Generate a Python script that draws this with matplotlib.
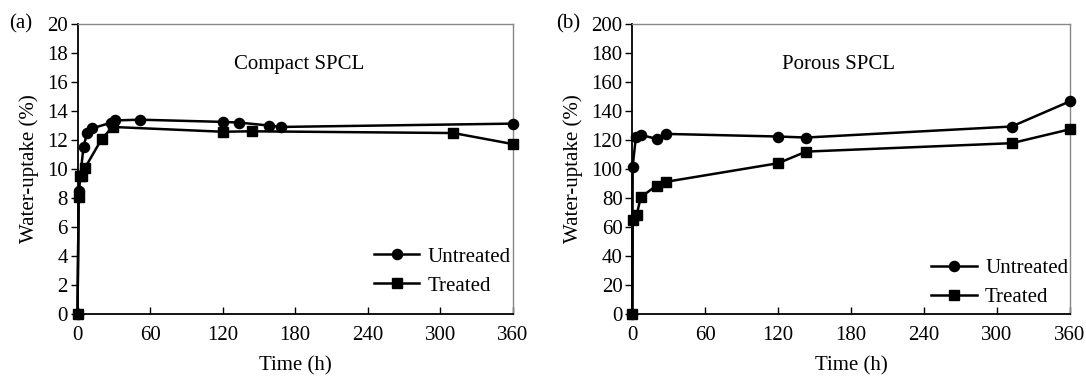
import matplotlib
matplotlib.use("Agg")
import matplotlib.pyplot as plt
from matplotlib.lines import Line2D

plt.rcParams['font.family'] = ['Liberation Serif', 'DejaVu Serif']

# Compact SPCL
t_cu = [0, 1, 5, 8, 12, 28, 31, 52, 120, 134, 158, 168, 360]
y_cu = [0, 8.5, 11.55, 12.5, 12.8, 13.2, 13.35, 13.4, 13.25, 13.2, 13.0, 12.9, 13.13]
t_ct = [0, 1, 2, 4, 6, 20, 29, 120, 144, 311, 360]
y_ct = [0, 8.1, 9.5, 9.55, 10.05, 12.07, 12.9, 12.57, 12.6, 12.48, 11.72]

# Porous SPCL
t_pu = [0, 0.3, 3, 7, 20, 28, 120, 143, 312, 360]
y_pu = [0, 101.7, 122.4, 123.5, 120.8, 124.2, 122.4, 121.7, 129.3, 146.7]
t_pt = [0, 0.3, 3.6, 7, 20, 28, 120, 143, 312, 360]
y_pt = [0, 65, 68.4, 80.6, 88.6, 91.2, 104, 112, 117.8, 127.4]

xticks = [0, 60, 120, 180, 240, 300, 360]

fig = plt.figure(figsize=(10.86, 3.79), dpi=100)
W, H = 1086, 379
FS = 15
MS = 7.3
LW = 1.8

def make_ax(x0, x1, ymax, ystep, panel, title, t_u, y_u, t_t, y_t, leg_y, lab_x, title_x):
    ax = fig.add_axes([x0 / W, (H - 314) / H, (x1 - x0) / W, 290 / H])
    ax.plot(t_u, y_u, color='black', lw=LW, marker='o', ms=MS, clip_on=False, zorder=3)
    ax.plot(t_t, y_t, color='black', lw=LW, marker='s', ms=MS, clip_on=False, zorder=3)
    ax.set_xlim(0, 360)
    ax.set_ylim(0, ymax)
    ax.set_xticks(xticks)
    ax.set_yticks(list(range(0, ymax + 1, ystep)))
    ax.tick_params(axis='x', direction='in', length=5, width=1, labelsize=FS, pad=9)
    ax.tick_params(axis='y', direction='out', length=5, width=1, labelsize=FS, pad=2)
    for s in ['top', 'right']:
        ax.spines[s].set_color('#888888')
        ax.spines[s].set_linewidth(1)
    for s in ['left', 'bottom']:
        ax.spines[s].set_color('black')
        ax.spines[s].set_linewidth(1.3)
    ax.set_xlabel('Time (h)', fontsize=FS, labelpad=8)
    ax.set_ylabel('Water-uptake (%)', fontsize=FS, labelpad=6)
    ax.text(title_x, 0.862, title, transform=ax.transAxes, ha='center', va='center', fontsize=FS)
    fig.text(lab_x / W, 1 - 24 / H, panel, ha='left', va='center', fontsize=FS)
    handles = [Line2D([], [], color='black', lw=LW, marker='o', ms=MS),
               Line2D([], [], color='black', lw=LW, marker='s', ms=MS)]
    ax.legend(handles, ['Untreated', 'Treated'], loc='lower right', frameon=False,
              fontsize=FS, handlelength=2.2, handletextpad=0.4, labelspacing=0.45,
              bbox_to_anchor=(1.015, leg_y), borderaxespad=0)
    return ax

make_ax(77.5, 512.7, 20, 2, '(a)', 'Compact SPCL', t_cu, y_cu, t_ct, y_ct, 0.035, 9, 0.51)
make_ax(632.3, 1070, 200, 20, '(b)', 'Porous SPCL', t_pu, y_pu, t_pt, y_pt, -0.005, 556, 0.47)

fig.savefig('out.png', dpi=100)
